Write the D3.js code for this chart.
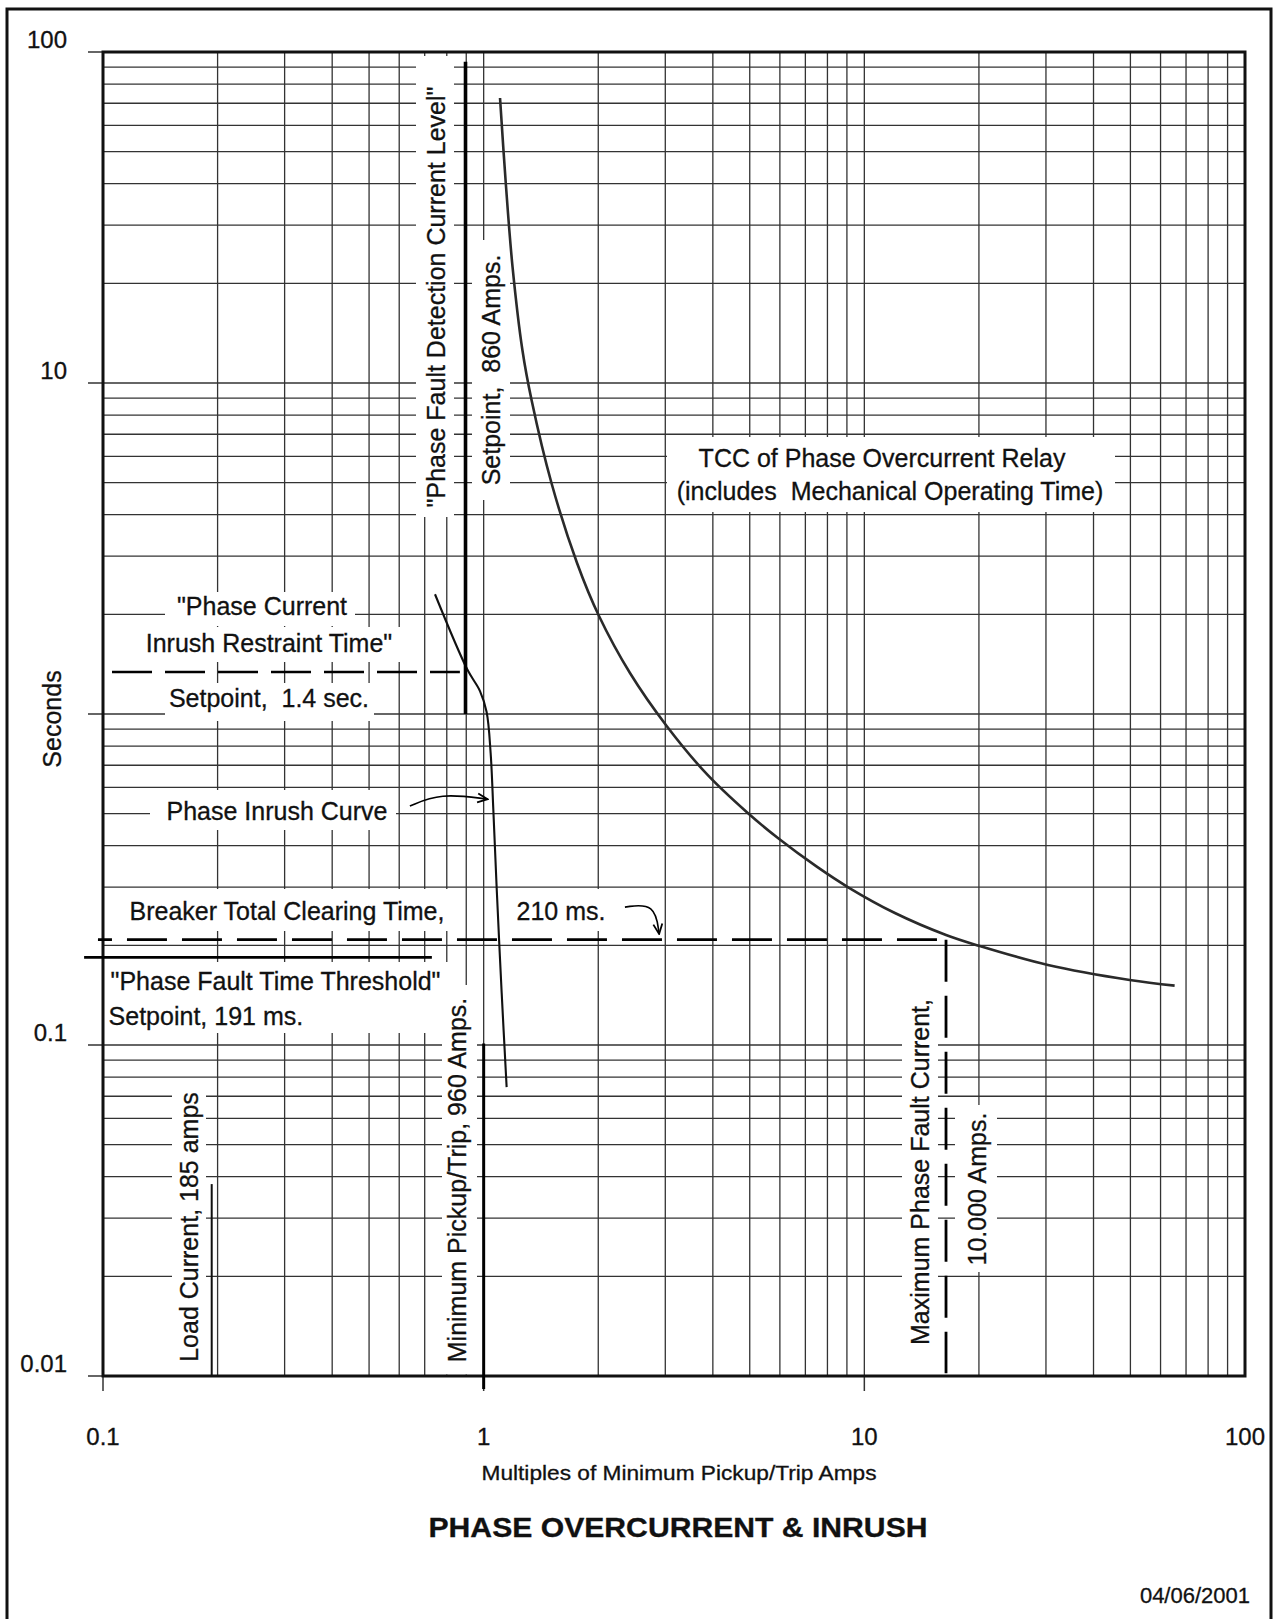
<!DOCTYPE html>
<html><head><meta charset="utf-8">
<script src="https://cdn.jsdelivr.net/npm/d3@7"></script>
<style>
body{margin:0;background:#fff}
svg{display:block}
text{font-family:"Liberation Sans",Arial,Helvetica,sans-serif;fill:#111;stroke:#111;stroke-width:0.3px}
</style>
</head><body>
<svg id="c" width="1280" height="1619"></svg>
<script>
// ---------- data ----------
const xTickValues = [0.1, 1, 10, 100];
const xTickLabels = ["0.1", "1", "10", "100"];
const yTickValues = [100, 10, 0.1, 0.01];
const yTickLabels = ["100", "10", "0.1", "0.01"];

// TCC of phase overcurrent relay (multiples of pickup, seconds)
const tccMultiples = [1.104, 1.143, 1.191, 1.264, 1.336, 1.507, 1.759, 2.009, 2.423, 3.025, 3.853, 4.907, 5.94, 7.50, 9.07, 12.03, 16.39, 19.98, 30.36, 49.79, 65.33];
const tccSeconds   = [72.6, 40.2, 22.4, 12.58, 8.885, 4.988, 2.859, 1.977, 1.330, 0.920, 0.659, 0.5056, 0.4212, 0.3457, 0.2996, 0.2505, 0.2150, 0.1995, 0.1745, 0.1572, 0.1511];

// Phase inrush curve
const inrushMultiples = [0.745, 0.906, 0.978, 1.018, 1.043, 1.060, 1.082, 1.115, 1.149];
const inrushSeconds   = [2.30, 1.362, 1.173, 1.014, 0.763, 0.516, 0.297, 0.144, 0.0746];

// reference lines
const detectionMultiple = 0.896;       // 860 A / 960 A
const detectionSeconds = [93.5, 1.0];
const restraintSeconds = 1.34;          // drawn inrush restraint time
const restraintMultiples = [0.1056, 0.866];
const breakerSeconds = 0.208;           // breaker total clearing time
const breakerMultiples = [0.097, 16.39];
const maxFaultMultiple = 16.39;
const maxFaultSeconds = [0.208, 0.0102];
const thresholdSeconds = 0.184;         // phase fault time threshold
const thresholdMultiples = [0.0892, 0.731];
const pickupMultiple = 1.0;
const pickupSeconds = [0.101, 0.01];
const loadMultiple = 0.193;             // 185 A / 960 A
const loadSeconds = [0.038, 0.01];

// annotation arrows (multiples, seconds)
const arrowInrush  = [[0.64, 0.527], [0.768, 0.577], [1.024, 0.553]];
const arrowBreaker = [[2.35, 0.261], [2.82, 0.2685], [2.89, 0.2165]];

// ---------- drawing ----------
const svg = d3.select("#c");
const L = 103, R = 1245, T = 52, B = 1376;
const x = d3.scaleLog().domain([0.1, 100]).range([L, R]);
const y = d3.scaleLog().domain([0.01, 100]).range([B, T]);

svg.append("rect").attr("width", 1280).attr("height", 1619).attr("fill", "#fff");
// outer frame
svg.append("path").attr("d", "M7,1625 V9 H1271 V1625")
  .attr("fill", "none").attr("stroke", "#111").attr("stroke-width", 3);

// grid
const gridX = [], gridY = [];
[0.1, 1, 10].forEach(d => { for (let k = 1; k <= 9; k++) { const v = +(k * d).toPrecision(6); if (v > 0.1) gridX.push(v); } });
[0.01, 0.1, 1, 10].forEach(d => { for (let k = 1; k <= 9; k++) { const v = +(k * d).toPrecision(6); if (v > 0.01) gridY.push(v); } });

const grid = svg.append("g").attr("stroke", "#333").attr("stroke-width", 1.3);
grid.selectAll(".gx").data(gridX).join("line")
  .attr("x1", d => x(d)).attr("x2", d => x(d)).attr("y1", T).attr("y2", B);
grid.selectAll(".gy").data(gridY).join("line")
  .attr("y1", d => y(d)).attr("y2", d => y(d)).attr("x1", L).attr("x2", R);

// decade ticks outside the plot
const ticks = svg.append("g").attr("stroke", "#333").attr("stroke-width", 1.5);
ticks.selectAll(".ty").data([100, 10, 1, 0.1, 0.01]).join("line")
  .attr("x1", L - 15).attr("x2", L).attr("y1", d => y(d)).attr("y2", d => y(d));
ticks.selectAll(".tx").data([0.1, 1, 10]).join("line")
  .attr("y1", B).attr("y2", B + 15).attr("x1", d => x(d)).attr("x2", d => x(d));

const boxLayer = svg.append("g");
const lineLayer = svg.append("g");
const textLayer = svg.append("g");

// plot border
svg.insert("rect", () => lineLayer.node())
  .attr("x", L).attr("y", T).attr("width", R - L).attr("height", B - T)
  .attr("fill", "none").attr("stroke", "#111").attr("stroke-width", 3);

const line = d3.line().x(d => x(d[0])).y(d => y(d[1]));
const smooth = d3.line().x(d => x(d[0])).y(d => y(d[1])).curve(d3.curveCatmullRom.alpha(0.5));

// TCC curve
lineLayer.append("path")
  .datum(tccMultiples.map((m, i) => [m, tccSeconds[i]]))
  .attr("d", smooth)
  .attr("fill", "none").attr("stroke", "#2a2a2a").attr("stroke-width", 2.6);

// inrush curve
lineLayer.append("path")
  .datum(inrushMultiples.map((m, i) => [m, inrushSeconds[i]]))
  .attr("d", smooth)
  .attr("fill", "none").attr("stroke", "#111").attr("stroke-width", 2.1);

// detection level (thick vertical)
lineLayer.append("path").datum(detectionSeconds.map(s => [detectionMultiple, s]))
  .attr("d", line).attr("stroke", "#000").attr("stroke-width", 3.6).attr("fill", "none");

// minimum pickup line (extends a bit below axis)
lineLayer.append("line")
  .attr("x1", x(pickupMultiple)).attr("x2", x(pickupMultiple))
  .attr("y1", y(pickupSeconds[0])).attr("y2", y(pickupSeconds[1]) + 13)
  .attr("stroke", "#000").attr("stroke-width", 3);

// load current line
lineLayer.append("path").datum(loadSeconds.map(s => [loadMultiple, s]))
  .attr("d", line).attr("stroke", "#111").attr("stroke-width", 2).attr("fill", "none");

// phase fault time threshold (solid)
lineLayer.append("path").datum(thresholdMultiples.map(m => [m, thresholdSeconds]))
  .attr("d", line).attr("stroke", "#000").attr("stroke-width", 2.6).attr("fill", "none");

// inrush restraint dashed
lineLayer.append("path").datum(restraintMultiples.map(m => [m, restraintSeconds]))
  .attr("d", line).attr("stroke", "#000").attr("stroke-width", 2.6).attr("fill", "none")
  .attr("stroke-dasharray", "40,13");

// breaker clearing dashed
lineLayer.append("path").datum(breakerMultiples.map(m => [m, breakerSeconds]))
  .attr("d", line).attr("stroke", "#000").attr("stroke-width", 2.8).attr("fill", "none")
  .attr("stroke-dasharray", "40,15").attr("stroke-dashoffset", 26);

// max fault current dashed vertical
lineLayer.append("path").datum(maxFaultSeconds.map(s => [maxFaultMultiple, s]))
  .attr("d", line).attr("stroke", "#000").attr("stroke-width", 2.8).attr("fill", "none")
  .attr("stroke-dasharray", "42,14");

// arrows
const defs = svg.append("defs");
defs.append("marker").attr("id", "ah").attr("viewBox", "0 0 12 12")
  .attr("refX", 11).attr("refY", 6).attr("markerWidth", 12).attr("markerHeight", 12)
  .attr("markerUnits", "userSpaceOnUse").attr("orient", "auto")
  .append("path").attr("d", "M1,1.5 L11,6 L1,10.5").attr("fill", "none")
  .attr("stroke", "#000").attr("stroke-width", 1.8);

const curveLine = d3.line().x(d => x(d[0])).y(d => y(d[1])).curve(d3.curveBasis);
[arrowInrush, arrowBreaker].forEach(a => {
  lineLayer.append("path").datum(a).attr("d", curveLine)
    .attr("fill", "none").attr("stroke", "#000").attr("stroke-width", 1.6)
    .attr("marker-end", "url(#ah)");
});

// annotation labels
const labels = [
  {t: '"Phase Fault Detection Current Level"', x: 445, y: 297, rot: -90, box: [416, 56, 454, 517]},
  {t: 'Setpoint,  860 Amps.', x: 500, y: 370, rot: -90, box: [472, 240, 510, 500]},
  {t: 'TCC of Phase Overcurrent Relay', x: 882, y: 467, box: [667, 437, 1115, 512]},
  {t: '(includes  Mechanical Operating Time)', x: 890, y: 500},
  {t: '"Phase Current', x: 262, y: 615, box: [165, 592, 355, 626]},
  {t: 'Inrush Restraint Time"', x: 269, y: 652, box: [138, 627, 400, 662]},
  {t: 'Setpoint,  1.4 sec.', x: 269, y: 707, box: [165, 683, 374, 721]},
  {t: 'Phase Inrush Curve', x: 277, y: 820, box: [150, 790, 396, 830]},
  {t: 'Breaker Total Clearing Time,', x: 287, y: 920, box: [108, 889, 455, 931]},
  {t: '210 ms.', x: 561, y: 920, box: [510, 889, 612, 931]},
  {t: '"Phase Fault Time Threshold"', x: 275.5, y: 990, box: [104.5, 962, 452, 1033]},
  {t: 'Setpoint, 191 ms.', x: 108.6, y: 1025, anchor: "start"},
  {t: 'Load Current, 185 amps', x: 197.5, y: 1227, rot: -90, box: [172, 1088, 206, 1374.5]},
  {t: 'Minimum Pickup/Trip, 960 Amps.', x: 466, y: 1180, rot: -90, box: [442, 985, 477, 1374.5]},
  {t: 'Maximum Phase Fault Current,', x: 929, y: 1172, rot: -90, box: [902, 992, 938, 1368]},
  {t: '10.000 Amps.', x: 986, y: 1189, rot: -90, box: [955, 1105, 997, 1272]}
];

labels.forEach(l => {
  if (l.box) {
    boxLayer.append("rect").attr("x", l.box[0]).attr("y", l.box[1])
      .attr("width", l.box[2] - l.box[0]).attr("height", l.box[3] - l.box[1])
      .attr("fill", "#fff");
  }
  textLayer.append("text")
    .attr("transform", `translate(${l.x},${l.y})` + (l.rot ? ` rotate(${l.rot})` : ""))
    .attr("text-anchor", l.anchor || "middle")
    .attr("font-size", 25)
    .style("white-space", "pre")
    .text(l.t);
});

// axis tick labels
const tickText = svg.append("g").attr("font-size", 24);
tickText.selectAll(".yl").data(yTickValues).join("text")
  .attr("x", 67).attr("y", d => y(d) - 4).attr("text-anchor", "end")
  .text((d, i) => yTickLabels[i]);
tickText.selectAll(".xl").data(xTickValues).join("text")
  .attr("x", d => x(d)).attr("y", 1445).attr("text-anchor", "middle")
  .text((d, i) => xTickLabels[i]);

// axis titles
svg.append("text").attr("transform", "translate(61,719) rotate(-90)")
  .attr("text-anchor", "middle").attr("font-size", 25).text("Seconds");
svg.append("text").attr("x", 679).attr("y", 1480).attr("text-anchor", "middle")
  .attr("font-size", 20).attr("textLength", 395).attr("lengthAdjust", "spacingAndGlyphs")
  .text("Multiples of Minimum Pickup/Trip Amps");
svg.append("text").attr("x", 678).attr("y", 1537).attr("text-anchor", "middle")
  .attr("font-size", 27).attr("font-weight", "bold")
  .attr("textLength", 499).attr("lengthAdjust", "spacingAndGlyphs")
  .text("PHASE OVERCURRENT & INRUSH");
svg.append("text").attr("x", 1250).attr("y", 1603).attr("text-anchor", "end")
  .attr("font-size", 22).text("04/06/2001");
</script>
</body></html>
